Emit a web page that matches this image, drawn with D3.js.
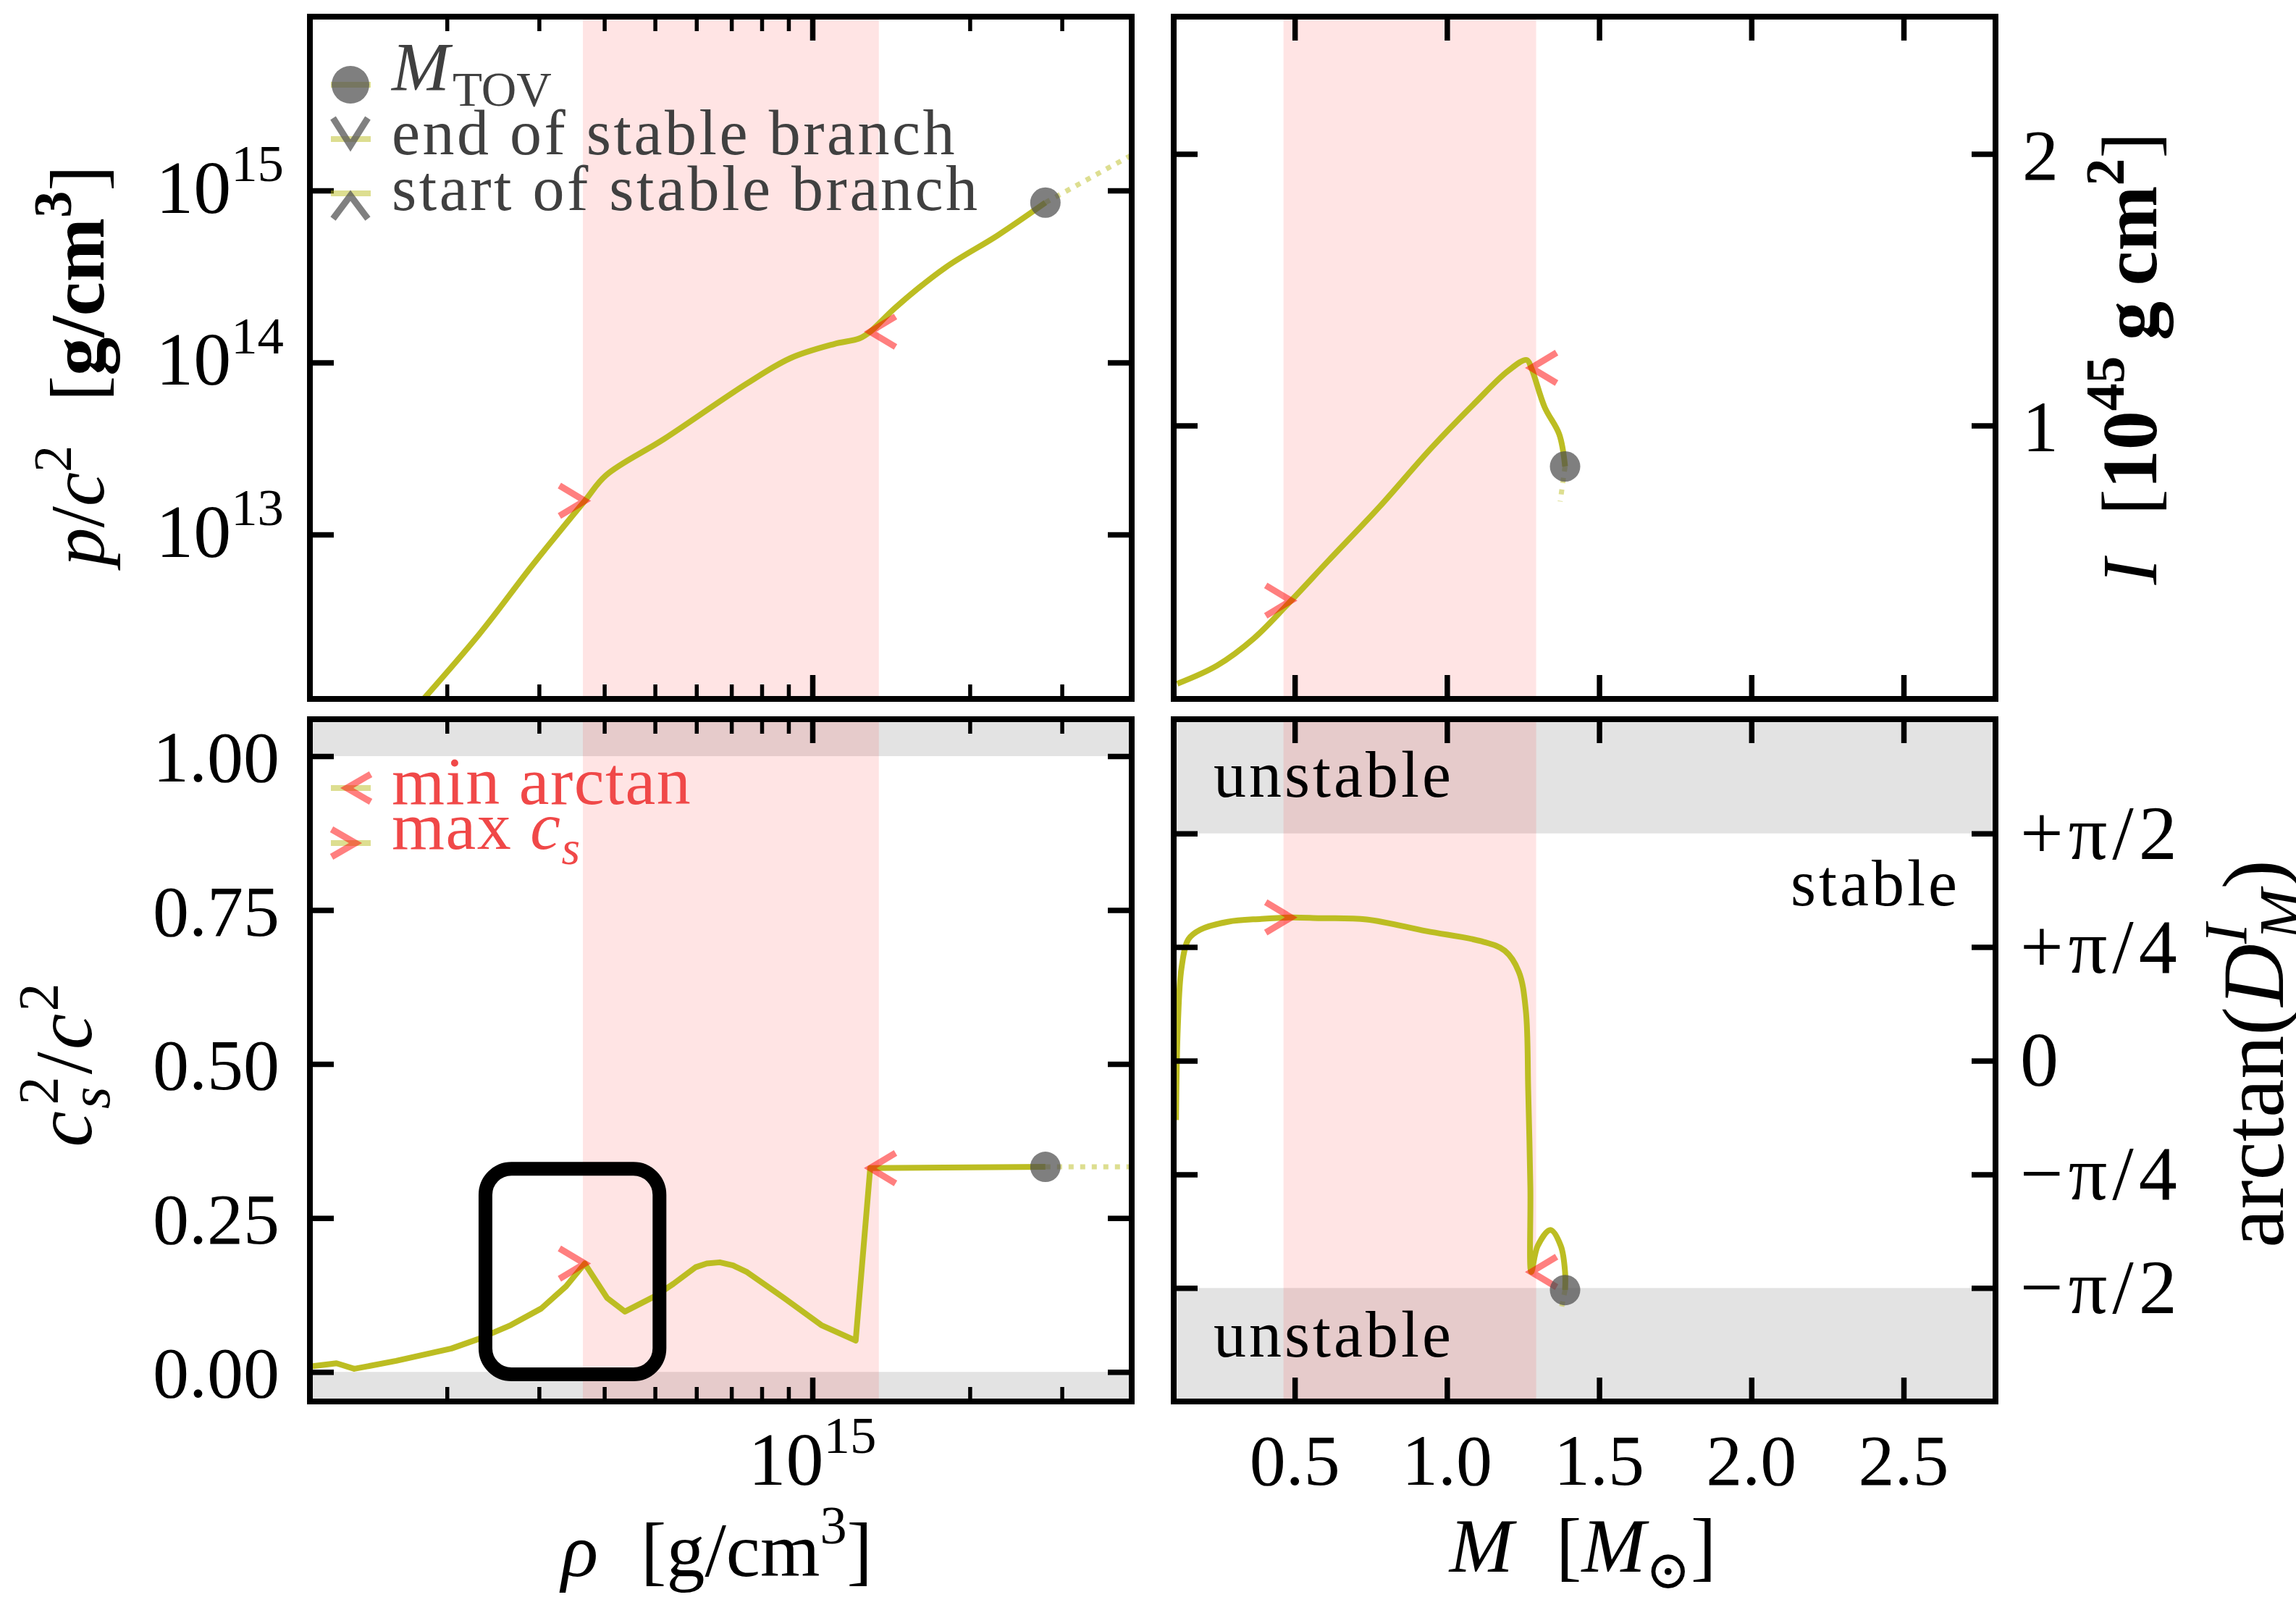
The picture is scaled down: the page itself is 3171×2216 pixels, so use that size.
<!DOCTYPE html>
<html>
<head>
<meta charset="utf-8">
<script src="https://cdn.jsdelivr.net/npm/d3@7"></script>
<style>
body { margin: 0; background: #fff; }
text { font-family: "Liberation Serif", "DejaVu Serif", serif; }
</style>
</head>
<body>
<script>
var width = 3171,
    height = 2216;

var olive = "#bcbd22";

// ---- data ----
// top left: pressure vs density
var rhoEos = [1.66e14, 2.31e14, 2.91e14, 3.67e14, 4.03e14, 5.21e14, 7.48e14, 9.08e14, 1.10e15, 1.23e15, 1.29e15, 1.44e15, 1.80e15, 2.26e15, 2.79e15];
var pEos   = [8.3e11, 2.65e12, 6.59e12, 1.57e13, 2.21e13, 3.60e13, 7.52e13, 1.06e14, 1.28e14, 1.38e14, 1.51e14, 2.08e14, 3.58e14, 5.48e14, 8.5e14];
var rhoEosDot = [2.79e15, 4.1e15];
var pEosDot   = [8.5e14, 1.62e15];

// bottom left: speed of sound squared vs density
var rhoCs = [1.10e14, 1.23e14, 1.33e14, 1.60e14, 2.04e14, 2.29e14, 2.65e14, 3.03e14, 3.38e14, 3.67e14, 4.05e14, 4.38e14, 5.00e14, 5.42e14, 5.98e14, 6.28e14, 6.65e14, 7.05e14, 7.50e14, 8.83e14, 1.04e15, 1.21e15, 1.29e15, 2.79e15];
var cs2   = [0.009, 0.014, 0.005, 0.018, 0.038, 0.053, 0.076, 0.103, 0.139, 0.176, 0.120, 0.098, 0.123, 0.143, 0.170, 0.176, 0.178, 0.173, 0.162, 0.120, 0.076, 0.051, 0.331, 0.333];
var rhoCsDot = [2.79e15, 4.1e15];
var cs2Dot   = [0.333, 0.333];

// top right: moment of inertia vs mass
var massI   = [0.114, 0.245, 0.367, 0.488, 0.609, 0.778, 0.948, 1.093, 1.200, 1.262, 1.277, 1.321, 1.369, 1.388];
var inertia = [0.049, 0.116, 0.217, 0.355, 0.50, 0.70, 0.916, 1.084, 1.200, 1.241, 1.212, 1.067, 0.967, 0.849];
var massIDot = [1.388, 1.372];
var inertiaDot = [0.849, 0.72];

// bottom right: arctan(D_M^I) vs mass
var massA = [0.110, 0.116, 0.128, 0.151, 0.189, 0.280, 0.390, 0.488, 0.583, 0.736, 0.933, 1.114, 1.190, 1.236, 1.259, 1.267, 1.274, 1.277, 1.298, 1.340, 1.374, 1.388, 1.388];
var arcD  = [-0.41, 0.235, 0.64, 0.84, 0.905, 0.96, 0.98, 0.99, 0.985, 0.976, 0.895, 0.825, 0.76, 0.615, 0.35, -0.21, -0.88, -1.46, -1.28, -1.17, -1.28, -1.46, -1.585];
var massADot = [1.388, 1.375];
var arcDDot  = [-1.585, -1.72];

// special points: [max c_s, min arctan, M_TOV]
var rhoMarks = [3.67e14, 1.29e15, 2.79e15];
var pMarks   = [1.57e13, 1.51e14, 8.5e14];
var csMarks  = [0.176, 0.331, 0.333];
var massMarks = [0.488, 1.277, 1.388];
var iMarks    = [0.355, 1.212, 0.849];
var aMarks    = [0.99, -1.46, -1.585];

// shaded ranges
var rhoBand = [3.64e14, 1.34e15];
var massBand = [0.463, 1.293];
var zoomBox = [2.37e14, 5.10e14, -0.004, 0.330];

// ticks
var rhoMajor = [1e15];
var rhoMinor = [2e14, 3e14, 4e14, 5e14, 6e14, 7e14, 8e14, 9e14, 2e15, 3e15];
var pTicks = [1e13, 1e14, 1e15];
var pTickLabels = ["13", "14", "15"];
var csTicks = [0, 0.25, 0.5, 0.75, 1.0];
var csTickLabels = ["0.00", "0.25", "0.50", "0.75", "1.00"];
var massTicks = [0.5, 1.0, 1.5, 2.0, 2.5];
var massTickLabels = ["0.5", "1.0", "1.5", "2.0", "2.5"];
var iTicks = [1, 2];
var aTicks = [Math.PI / 2, Math.PI / 4, 0, -Math.PI / 4, -Math.PI / 2];
var aTickLabels = ["+\u03c0/2", "+\u03c0/4", "0", "\u2212\u03c0/4", "\u2212\u03c0/2"];

// ---- layout ----
var panelW = 1135, panelH = 942;
var leftX = 428, rightX = 1621, topY = 23, botY = 993;
var lineW = 8, frameW = 8;

var xRho = d3.scaleLog().domain([1.094e14, 4.08e15]).range([0, panelW]);
var yP = d3.scaleLog().domain([1.107e12, 1.0245e16]).range([panelH, 0]);
var yCs = d3.scaleLinear().domain([-0.048, 1.06]).range([panelH, 0]);
var xM = d3.scaleLinear().domain([0.1024, 2.802]).range([0, panelW]);
var yI = d3.scaleLinear().domain([-0.007, 2.505]).range([panelH, 0]);
var yA = d3.scaleLinear().domain([-2.355, 2.36]).range([panelH, 0]);

var svg = d3.select("body").append("svg")
    .attr("width", width)
    .attr("height", height);

svg.append("rect").attr("width", width).attr("height", height).attr("fill", "#fff");

function makePanel(x0, y0, id)
{
  var g = svg.append("g").attr("transform", "translate(" + x0 + "," + y0 + ")");
  g.append("clipPath").attr("id", id)
    .append("rect").attr("width", panelW).attr("height", panelH);
  return g;
}

function chevron(dir, len, half)
{
  if(dir == ">") return "M" + (-len) + "," + (-half) + "L0,0L" + (-len) + "," + half;
  if(dir == "<") return "M" + len + "," + (-half) + "L0,0L" + len + "," + half;
  if(dir == "v") return "M" + (-half) + "," + (-len) + "L0,0L" + half + "," + (-len);
  return "M" + (-half) + "," + len + "L0,0L" + half + "," + len;
}

function drawTicks(g, scale, vals, side, len, w)
{
  var axis = side == "bottom" ? d3.axisBottom(scale) :
             side == "top" ? d3.axisTop(scale) :
             side == "left" ? d3.axisLeft(scale) : d3.axisRight(scale);
  axis.tickValues(vals).tickSize(-len).tickFormat(function() { return ""; });
  var a = g.append("g");
  if(side == "bottom") a.attr("transform", "translate(0," + panelH + ")");
  if(side == "right") a.attr("transform", "translate(" + panelW + ",0)");
  a.call(axis);
  a.select(".domain").remove();
  a.selectAll("line").attr("stroke", "#000").attr("stroke-width", w);
}

function mathText(sel, parts, size)
{
  var shift = 0;
  parts.forEach(function(p) {
    var target = p.sup ? -0.42 * size : (p.sub ? 0.22 * size : 0);
    var ts = sel.append("tspan")
        .attr("dy", target - shift)
        .attr("font-size", (p.sup || p.sub) ? size * 0.7 : size)
        .text(p.t);
    if(p.it) ts.attr("font-style", "italic");
    if(p.b) ts.attr("font-weight", "bold");
    if(p.dx) ts.attr("dx", p.dx);
    shift = target;
  });
}

function curve(g, clipId, xs, ys, sx, sy, smooth)
{
  var line = d3.line()
      .x(function(d) { return sx(d[0]); })
      .y(function(d) { return sy(d[1]); })
      .curve(smooth ? d3.curveCatmullRom.alpha(0.5) : d3.curveLinear);
  g.append("path")
    .datum(d3.zip(xs, ys))
    .attr("clip-path", "url(#" + clipId + ")")
    .attr("d", line)
    .attr("fill", "none")
    .attr("stroke", olive)
    .attr("stroke-width", lineW)
    .attr("stroke-linejoin", "round");
}

function dotted(g, clipId, xs, ys, sx, sy)
{
  var line = d3.line()
      .x(function(d) { return sx(d[0]); })
      .y(function(d) { return sy(d[1]); });
  g.append("path")
    .datum(d3.zip(xs, ys))
    .attr("clip-path", "url(#" + clipId + ")")
    .attr("d", line)
    .attr("fill", "none")
    .attr("stroke", olive)
    .attr("stroke-opacity", 0.5)
    .attr("stroke-width", 7)
    .attr("stroke-dasharray", "7,9");
}

function marks(g, xs, ys, sx, sy)
{
  g.append("path")
    .attr("d", chevron(">", 35, 21))
    .attr("transform", "translate(" + sx(xs[0]) + "," + sy(ys[0]) + ")")
    .attr("fill", "none").attr("stroke", "red").attr("stroke-opacity", 0.5).attr("stroke-width", 9);
  g.append("path")
    .attr("d", chevron("<", 35, 21))
    .attr("transform", "translate(" + sx(xs[1]) + "," + sy(ys[1]) + ")")
    .attr("fill", "none").attr("stroke", "red").attr("stroke-opacity", 0.5).attr("stroke-width", 9);
  g.append("circle")
    .attr("cx", sx(xs[2])).attr("cy", sy(ys[2])).attr("r", 21)
    .attr("fill", "#4d4d4d").attr("fill-opacity", 0.72);
}

function frame(g)
{
  g.append("rect").attr("width", panelW).attr("height", panelH)
    .attr("fill", "none").attr("stroke", "#000").attr("stroke-width", frameW);
}

function greyBand(g, sy, lo, hi)
{
  g.append("rect")
    .attr("x", 0).attr("width", panelW)
    .attr("y", Math.max(0, sy(hi))).attr("height", Math.min(panelH, sy(lo)) - Math.max(0, sy(hi)))
    .attr("fill", "#808080").attr("fill-opacity", 0.22);
}

function pinkBand(g, sx, band)
{
  g.append("rect")
    .attr("x", sx(band[0])).attr("width", sx(band[1]) - sx(band[0]))
    .attr("y", 0).attr("height", panelH)
    .attr("fill", "red").attr("fill-opacity", 0.105);
}

function allTicks(g, sx, sy, xMaj, xMin, yMaj)
{
  drawTicks(g, sx, xMaj, "bottom", 33, 7.5);
  drawTicks(g, sx, xMaj, "top", 33, 7.5);
  if(xMin)
  {
    drawTicks(g, sx, xMin, "bottom", 20, 5.5);
    drawTicks(g, sx, xMin, "top", 20, 5.5);
  }
  drawTicks(g, sy, yMaj, "left", 33, 7.5);
  drawTicks(g, sy, yMaj, "right", 33, 7.5);
}

// ---- top left: p/c^2 vs rho ----
var tl = makePanel(leftX, topY, "clipTL");
pinkBand(tl, xRho, rhoBand);
curve(tl, "clipTL", rhoEos, pEos, xRho, yP, true);
dotted(tl, "clipTL", rhoEosDot, pEosDot, xRho, yP);
marks(tl, rhoMarks, pMarks, xRho, yP);
allTicks(tl, xRho, yP, rhoMajor, rhoMinor, pTicks);
frame(tl);

// legend of top left
var leg = svg.append("g");
var legRows = [117, 192, 267];
leg.selectAll("line.leg").data(legRows).enter().append("line")
  .attr("x1", 457).attr("x2", 512)
  .attr("y1", function(d) { return d; }).attr("y2", function(d) { return d; })
  .attr("stroke", olive).attr("stroke-opacity", 0.5).attr("stroke-width", lineW);
leg.append("circle").attr("cx", 484).attr("cy", legRows[0]).attr("r", 26)
  .attr("fill", "#4d4d4d").attr("fill-opacity", 0.72);
leg.append("path").attr("d", chevron("v", 38, 24))
  .attr("transform", "translate(484," + (legRows[1] + 9) + ")")
  .attr("fill", "none").attr("stroke", "#555").attr("stroke-opacity", 0.75).attr("stroke-width", 9);
leg.append("path").attr("d", chevron("^", 32, 24))
  .attr("transform", "translate(484," + (legRows[2] + 3) + ")")
  .attr("fill", "none").attr("stroke", "#555").attr("stroke-opacity", 0.75).attr("stroke-width", 9);

var legText = leg.append("g").attr("fill", "#404040");
mathText(legText.append("text").attr("x", 541).attr("y", 125),
  [{t: "M", it: true}, {t: "TOV", sub: true, dx: 4}], 96);
legText.append("text").attr("x", 541).attr("y", 213).attr("font-size", 88)
  .attr("letter-spacing", 3.5).text("end of stable branch");
legText.append("text").attr("x", 541).attr("y", 290).attr("font-size", 88)
  .attr("letter-spacing", 3.5).text("start of stable branch");

// ---- bottom left: c_s^2 vs rho ----
var bl = makePanel(leftX, botY, "clipBL");
greyBand(bl, yCs, 1.0, 2.0);
greyBand(bl, yCs, -1.0, 0.0);
pinkBand(bl, xRho, rhoBand);
curve(bl, "clipBL", rhoCs, cs2, xRho, yCs, false);
dotted(bl, "clipBL", rhoCsDot, cs2Dot, xRho, yCs);
marks(bl, rhoMarks, csMarks, xRho, yCs);
allTicks(bl, xRho, yCs, rhoMajor, rhoMinor, csTicks);
frame(bl);

// highlighted region
bl.append("rect")
  .attr("x", xRho(zoomBox[0])).attr("width", xRho(zoomBox[1]) - xRho(zoomBox[0]))
  .attr("y", yCs(zoomBox[3])).attr("height", yCs(zoomBox[2]) - yCs(zoomBox[3]))
  .attr("rx", 36).attr("ry", 36)
  .attr("fill", "none").attr("stroke", "#000").attr("stroke-width", 19);

// legend of bottom left
var legRed = "#f04848";
var leg2 = svg.append("g");
leg2.append("line").attr("x1", 457).attr("x2", 512).attr("y1", 1088).attr("y2", 1088)
  .attr("stroke", olive).attr("stroke-opacity", 0.5).attr("stroke-width", lineW);
leg2.append("line").attr("x1", 457).attr("x2", 512).attr("y1", 1164).attr("y2", 1164)
  .attr("stroke", olive).attr("stroke-opacity", 0.5).attr("stroke-width", lineW);
leg2.append("path").attr("d", chevron("<", 33, 19))
  .attr("transform", "translate(479,1088)")
  .attr("fill", "none").attr("stroke", "red").attr("stroke-opacity", 0.5).attr("stroke-width", 9);
leg2.append("path").attr("d", chevron(">", 33, 19))
  .attr("transform", "translate(491,1164)")
  .attr("fill", "none").attr("stroke", "red").attr("stroke-opacity", 0.5).attr("stroke-width", 9);
leg2.append("text").attr("x", 541).attr("y", 1110).attr("font-size", 94)
  .attr("letter-spacing", 1.5).attr("fill", legRed).text("min arctan");
mathText(leg2.append("text").attr("x", 541).attr("y", 1172).attr("fill", legRed).attr("letter-spacing", 1.5),
  [{t: "max "}, {t: "c", it: true}, {t: "s", sub: true, it: true}], 94);

// ---- top right: I vs M ----
var tr = makePanel(rightX, topY, "clipTR");
pinkBand(tr, xM, massBand);
curve(tr, "clipTR", massI, inertia, xM, yI, true);
dotted(tr, "clipTR", massIDot, inertiaDot, xM, yI);
marks(tr, massMarks, iMarks, xM, yI);
allTicks(tr, xM, yI, massTicks, null, iTicks);
frame(tr);

// ---- bottom right: arctan vs M ----
var br = makePanel(rightX, botY, "clipBR");
greyBand(br, yA, Math.PI / 2, 5);
greyBand(br, yA, -5, -Math.PI / 2);
pinkBand(br, xM, massBand);
curve(br, "clipBR", massA, arcD, xM, yA, true);
dotted(br, "clipBR", massADot, arcDDot, xM, yA);
marks(br, massMarks, aMarks, xM, yA);
allTicks(br, xM, yA, massTicks, null, aTicks);
frame(br);

svg.append("text").attr("x", 1676).attr("y", 1100).attr("font-size", 90)
  .attr("letter-spacing", 4).text("unstable");
svg.append("text").attr("x", 1676).attr("y", 1873).attr("font-size", 90)
  .attr("letter-spacing", 4).text("unstable");
svg.append("text").attr("x", 2473).attr("y", 1250).attr("font-size", 90)
  .attr("letter-spacing", 4).text("stable");

// ---- tick labels ----
var labels = svg.append("g").attr("fill", "#000");

pTicks.forEach(function(v, i) {
  mathText(labels.append("text").attr("text-anchor", "end")
      .attr("x", 392).attr("y", topY + yP(v) + 31),
    [{t: "10"}, {t: pTickLabels[i], sup: true}], 104);
});

csTicks.forEach(function(v, i) {
  labels.append("text").attr("text-anchor", "end")
    .attr("x", 386).attr("y", botY + yCs(v) + 35)
    .attr("font-size", 100).text(csTickLabels[i]);
});

rhoMajor.forEach(function(v) {
  mathText(labels.append("text").attr("text-anchor", "middle")
      .attr("x", leftX + xRho(v)).attr("y", 2050),
    [{t: "10"}, {t: "15", sup: true}], 104);
});

massTicks.forEach(function(v, i) {
  labels.append("text").attr("text-anchor", "middle")
    .attr("x", rightX + xM(v)).attr("y", 2050)
    .attr("font-size", 100).text(massTickLabels[i]);
});

iTicks.forEach(function(v) {
  labels.append("text").attr("x", 2793).attr("y", topY + yI(v) + 36)
    .attr("font-size", 100).text(v);
});

aTicks.forEach(function(v, i) {
  labels.append("text").attr("x", 2790).attr("y", botY + yA(v) + 35)
    .attr("font-size", 106).attr("letter-spacing", 7).text(aTickLabels[i]);
});

// ---- axis titles ----
mathText(labels.append("text").attr("text-anchor", "middle")
    .attr("transform", "translate(143,505) rotate(-90)"),
  [{t: "p", it: true}, {t: "/"}, {t: "c", it: true}, {t: "2", sup: true},
   {t: "\u2002[", dx: 8}, {t: "g/cm", b: true}, {t: "3", sup: true, b: true}, {t: "]"}], 106);

mathText(labels.append("text").attr("text-anchor", "middle")
    .attr("transform", "translate(126,1469) rotate(-90)").attr("letter-spacing", 3),
  [{t: "c", it: true}, {t: "s", sub: true, it: true}, {t: "2", sup: true, dx: -28}, {t: "/"}, {t: "c", it: true}, {t: "2", sup: true}], 112);

mathText(labels.append("text").attr("text-anchor", "middle")
    .attr("x", 990).attr("y", 2176),
  [{t: "\u03c1", it: true}, {t: "\u2002[", dx: 6}, {t: "g/cm"}, {t: "3", sup: true}, {t: "]"}], 106);

mathText(labels.append("text").attr("text-anchor", "middle")
    .attr("x", 2186).attr("y", 2170),
  [{t: "M", it: true}, {t: "\u2002[", dx: 6}, {t: "M", it: true}, {t: "\u2299", sub: true}, {t: "]"}], 106);

mathText(labels.append("text").attr("text-anchor", "middle")
    .attr("transform", "translate(2978,495) rotate(-90)"),
  [{t: "I", it: true}, {t: "\u2002[", dx: 6}, {t: "10", b: true}, {t: "45", sup: true, b: true},
   {t: "\u2009g\u2009cm", b: true}, {t: "2", sup: true, b: true}, {t: "]"}], 108);

mathText(labels.append("text").attr("text-anchor", "middle")
    .attr("transform", "translate(3153,1455) rotate(-90)"),
  [{t: "arctan("}, {t: "D", it: true}, {t: "I", sup: true, it: true}, {t: "M", sub: true, it: true, dx: -22}, {t: ")"}], 120);
</script>
</body>
</html>
